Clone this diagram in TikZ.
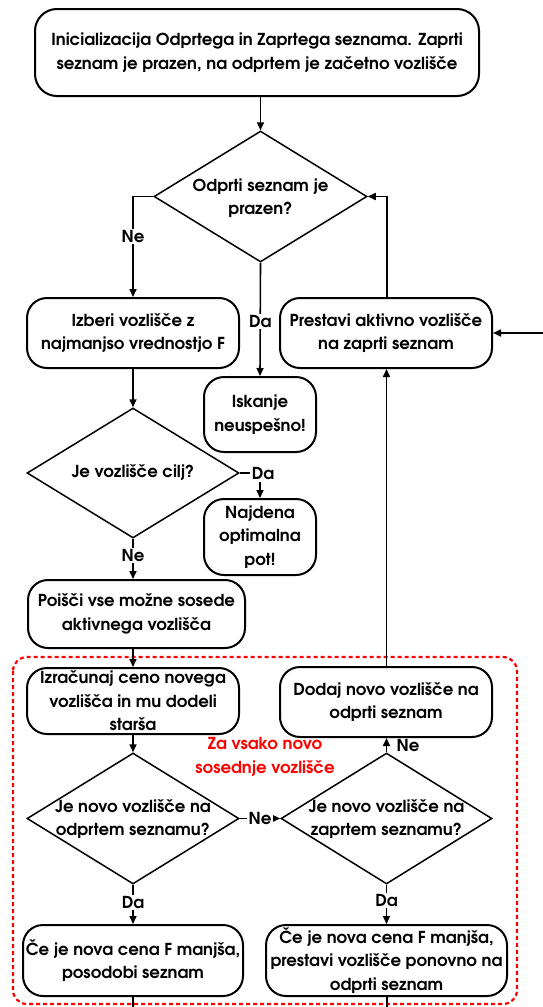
\documentclass[tikz,border=0pt]{standalone}
\usepackage{fontspec}
\setmainfont{texgyreadventor}[Extension=.otf, UprightFont=*-regular, BoldFont=*-bold]
\usetikzlibrary{shapes.geometric,arrows.meta}
\definecolor{dashred}{RGB}{255,0,0}
\tikzset{
  fnt/.style={font=\bfseries\fontsize{16.5}{23.5}\selectfont},
  box/.style={draw, line width=2pt, rounded corners=20pt, align=center, inner sep=0pt, fnt},
  dia/.style={draw, diamond, line width=1.5pt, inner sep=0pt},
  txt/.style={align=center, inner sep=0pt, fnt},
  lbl/.style={fill=white, inner sep=1.5pt, fnt},
  conn/.style={line width=1.6pt, -{Triangle[length=8pt,width=7pt]}},
  plain/.style={line width=1.6pt}
}
\begin{document}
\begin{tikzpicture}[x=1pt,y=-1pt]
\useasboundingbox (0,0) rectangle (543,1007);
% dashed group
\draw[dashred, line width=2.2pt, dash pattern=on 4pt off 3pt, rounded corners=14pt] (13,657) rectangle (517,1004);
\node[txt, text=dashred] (grp) at (265,757) {Za vsako novo\\sosednje vozlišče};

\node[box, minimum width=444pt, minimum height=87pt, rounded corners=22pt] (b1) at (257,52.5) {Inicializacija Odprtega in Zaprtega seznama. Zaprti\\seznam je prazen, na odprtem je začetno vozlišče};
\node[dia, minimum width=213pt, minimum height=131pt] (d1) at (260.5,196.5) {};
\node[txt] (d1t) at (260.5,198) {Odprti seznam je\\prazen?};
\node[box, minimum width=212pt, minimum height=70pt] (izb) at (133,333) {Izberi vozlišče z\\najmanjso vrednostjo F};
\node[box, minimum width=212pt, minimum height=70pt] (pre) at (386,333) {Prestavi aktivno vozlišče\\na zaprti seznam};
\node[box, minimum width=112pt, minimum height=75pt] (isk) at (260,414.5) {Iskanje\\neuspešno!};
\node[dia, minimum width=212pt, minimum height=130pt] (d2) at (133,473) {};
\node[txt] (d2t) at (133,473) {Je vozlišče cilj?};
\node[box, minimum width=112pt, minimum height=76pt] (naj) at (260,537) {Najdena\\optimalna\\pot!};
\node[box, minimum width=217pt, minimum height=68pt] (poi) at (136.5,614) {Poišči vse možne sosede\\aktivnega vozlišča};
\node[box, minimum width=212pt, minimum height=66pt] (izr) at (133,701) {Izračunaj ceno novega\\vozlišča in mu dodeli\\starša};
\node[dia, minimum width=212pt, minimum height=131pt] (d3) at (133,818.5) {};
\node[txt] (d3t) at (133,819) {Je novo vozlišče na\\odprtem seznamu?};
\node[dia, minimum width=211pt, minimum height=131pt] (d4) at (386.5,818.5) {};
\node[txt] (d4t) at (386.5,819) {Je novo vozlišče na\\zaprtem seznamu?};
\node[box, minimum width=212pt, minimum height=70pt] (dod) at (386,702) {Dodaj novo vozlišče na\\odprti seznam};
\node[box, minimum width=220pt, minimum height=71pt] (cpo) at (133,960.5) {Če je nova cena F manjša,\\posodobi seznam};
\node[box, minimum width=241pt, minimum height=71pt] (cpr) at (386.5,960.5) {Če je nova cena F manjša,\\prestavi vozlišče ponovno na\\odprti seznam};

\coordinate (inR) at (543,333);
\coordinate (outL) at (133,1007);
\coordinate (outR) at (387,1007);

% connectors
\draw[conn] (b1.south -| d1.north) -- (d1.north);
\draw[conn] (d1.west) -| node[lbl, pos=0.7] {Ne} (izb.north);
\draw[conn] (d1.south) -- node[lbl, pos=0.52] {Da} (isk.north);
\draw[conn] (pre.north -| 387,0) |- (d1.east);
\draw[conn] (inR) -- (pre.east);
\draw[conn] (izb.south) -- (d2.north);
\draw[conn] (d2.east) -| (naj.north);
\node[lbl] at (263,474) {Da};
\draw[conn] (d2.south) -- node[lbl, pos=0.42] {Ne} (poi.north -| d2.south);
\draw[conn] (poi.south -| izr.north) -- (izr.north);
\draw[conn] (izr.south) -- (d3.north);
\draw[conn] (d3.east) -- node[lbl, pos=0.5] {Ne} (d4.west);
\draw[conn] (d4.north) -- node[fnt, right=6pt] {Ne} (dod.south -| d4.north);
\draw[conn] (dod.north -| d4.north) -- (pre.south -| d4.north);
\draw[conn] (d3.south) -- node[lbl, pos=0.45] {Da} (cpo.north);
\draw[conn] (d4.south) -- node[lbl, pos=0.4] {Da} (cpr.north -| d4.south);
\draw[plain] (cpo.south) -- (outL);
\draw[plain] (cpr.south -| outR) -- (outR);
\end{tikzpicture}
\end{document}
